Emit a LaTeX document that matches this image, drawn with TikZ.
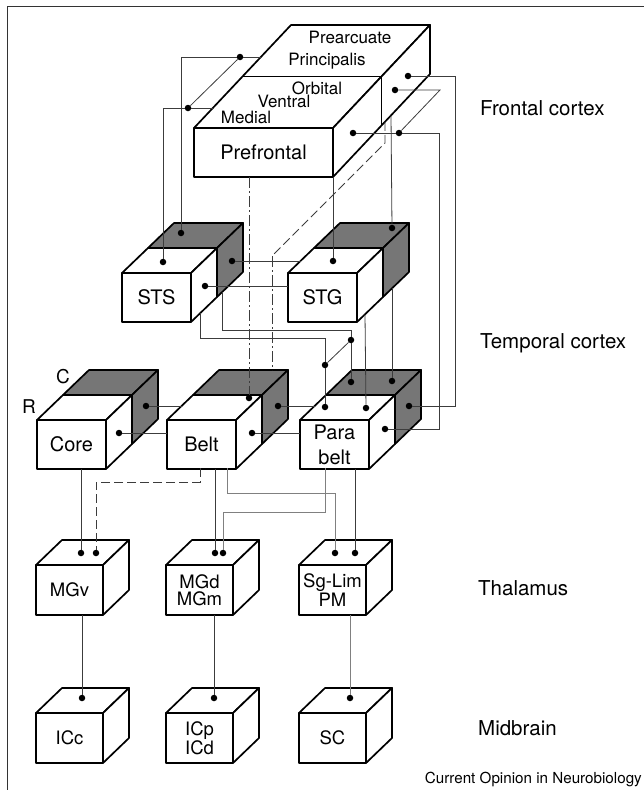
\documentclass[tikz,border=0pt]{standalone}
\usepackage{fontspec}
\setmainfont{TeX Gyre Heros}
\usetikzlibrary{calc}
\definecolor{caudal}{RGB}{118,118,118}
\definecolor{inkgray}{RGB}{60,60,60}

% cortical block: white rostral half in front, shaded caudal half behind
\newcommand{\ctxcube}[4]{%
  \node[ctxbox] (#1) at (#2,#3) {#4};
  \filldraw[boxline, fill=white] (#1.north west) -- ++(26,-25) -- ++(69,0) -- ++(-26,25) -- cycle;
  \filldraw[boxline, fill=caudal] (#1.north west) ++(26,-25) -- ++(26,-25) -- ++(69,0) -- ++(-26,25) -- cycle;
  \filldraw[boxline, fill=white] (#1.north east) -- ++(26,-25) -- ++(0,49) -- ++(-26,25) -- cycle;
  \filldraw[boxline, fill=caudal] (#1.north east) ++(26,-25) -- ++(26,-25) -- ++(0,49) -- ++(-26,25) -- cycle;
}
% subcortical block: plain white cube
\newcommand{\subcube}[4]{%
  \node[subbox] (#1) at (#2,#3) {#4};
  \filldraw[boxline, fill=white] (#1.north west) -- ++(26,-25) -- ++(67,0) -- ++(-26,25) -- cycle;
  \filldraw[boxline, fill=white] (#1.north east) -- ++(26,-25) -- ++(0,50) -- ++(-26,25) -- cycle;
}

\begin{document}
\begin{tikzpicture}[x=1pt, y=-1pt,
    boxline/.style={line width=1.7pt, line join=round},
    frontbox/.style={boxline, draw, fill=white, anchor=north west, inner sep=0pt,
                     outer sep=0pt, align=center},
    ctxbox/.style={frontbox, minimum width=69pt, minimum height=49pt,
                   font=\fontsize{20}{25}\selectfont},
    subbox/.style={frontbox, minimum width=67pt, minimum height=50pt,
                   font=\fontsize{18.5}{17}\selectfont},
    toplab/.style={font=\fontsize{17}{20}\selectfont, inner sep=0pt},
    region/.style={font=\fontsize{20.5}{24}\selectfont, anchor=west, inner sep=0pt},
    tap/.style={circle, fill=black, inner sep=0pt, minimum size=6.5pt},
    conn/.style={line width=0.8pt, draw=inkgray},
    faint/.style={conn, draw=black!50},
    weak/.style={conn, dash pattern=on 9pt off 4pt},
    weakdot/.style={conn, dash pattern=on 11pt off 3pt on 2pt off 3pt},
]
\useasboundingbox (0,0) rectangle (644,790);

% frame
\draw[line width=1pt, black!80] (7,790) -- (7,6) -- (644,6);

%---------------------------------------------------------------
% Frontal cortex: prefrontal block
%---------------------------------------------------------------
\node[frontbox, minimum width=139pt, minimum height=49pt,
      font=\fontsize{20}{24}\selectfont] (pfc) at (194,128) {Prefrontal};
\filldraw[boxline, fill=white] (pfc.north west) -- ++(97,-103) -- ++(139,0)
    -- ++(-97,103) -- cycle;
\filldraw[boxline, fill=white] (pfc.north east) -- ++(97,-103) -- ++(0,49)
    -- ++(-97,103) -- cycle;
\draw[boxline] (pfc.north west) ++(48.5,-51.5) -- ++(139,0) -- ++(0,49);

\node[toplab] (prearc) at (350,37)  {Prearcuate};
\node[toplab] (princ)  at (327,61)  {Principalis};
\node[toplab] (orbit)  at (317,88)  {Orbital};
\node[toplab] (ventr)  at (284,101) {Ventral};
\node[toplab] (medi)   at (246,117) {Medial};

%---------------------------------------------------------------
% Temporal cortex, thalamus, midbrain
%---------------------------------------------------------------
\ctxcube{sts}{122}{273}{STS}
\ctxcube{stg}{288}{273}{STG}
\ctxcube{core}{37}{420}{Core}
\ctxcube{belt}{167}{420}{Belt}
\ctxcube{pb}{300}{420}{Para\\belt}

\subcube{mgv}{36}{565}{MGv}
\subcube{mgd}{166}{565}{MGd\\MGm}
\subcube{sg}{299}{565}{Sg-Lim\\PM}
\subcube{icc}{36}{713}{ICc}
\subcube{icp}{166}{713}{ICp\\ICd}
\subcube{sc}{299}{713}{SC}

\node[font=\fontsize{19}{22}\selectfont] (clab) at (63,377) {C};
\node[font=\fontsize{19}{22}\selectfont] (rlab) at (29,407) {R};

% region names
\node[region] (frontal)  at (480,108) {Frontal cortex};
\node[region] (temporal) at (480,343) {Temporal cortex};
\node[region] (thal)     at (478,588) {Thalamus};
\node[region] (midb)     at (478,728) {Midbrain};
\node[anchor=east, inner sep=0pt, font=\fontsize{15.2}{18}\selectfont]
     (credit) at (642,779) {Current Opinion in Neurobiology};

%---------------------------------------------------------------
% Terminal dots
%---------------------------------------------------------------
\foreach \n/\x/\y in {pfE/240/57, pfF/188/108, pfD/408/76, pfA/395/90,
    pfC/353/133, pfB/399/133,
    stsTopC/181/233, stsTopR/163/262, stsSideC/232/261, stsSideR/205/286,
    stgTopC/392/228, stgTopR/333/261, pbMidC/351/340, pbMidR/325/365,
    beltTop/249/398, coreSideC/146/406, coreSideR/119/433,
    beltSideC/278/406, beltSideR/252/433,
    pbTopC/351/382, pbTopC2/392/381, pbTopR/325/407, pbTopR2/366/408,
    pbSideC/409/406, pbSideR/385/429,
    mgvL/81/553, mgvR/96/553, mgdL/215/553, mgdR/223/553,
    sgL/335/553, sgR/355/553,
    iccTop/82/698, icpTop/214/698, scTop/350/698} {
    \node[tap] (\n) at (\x,\y) {};
}

% bends and edge points
\coordinate (pfEin)  at (260.9,57);
\coordinate (pfFin)  at (212.8,108);
\coordinate (pfBotM) at (333,177);
\coordinate (pfBotL) at (249,177);
\coordinate (pfBotD) at (385,121.8);
\coordinate (pfBotS) at (391,115.4);
\coordinate (pfDrop) at (385,143);
\coordinate (stgGap) at (272,256);
\coordinate (beltBack) at (272,370);
\coordinate (stsBotR) at (200,313.3);
\coordinate (stsBotC) at (222,292.2);
\coordinate (stsKneeR) at (200,338);
\coordinate (stsKneeC) at (222,330);
\coordinate (stgBotR) at (365,314.3);
\coordinate (stgBotC) at (392,288.3);
\coordinate (stgEdge) at (300.5,261);
\coordinate (beltEdge) at (181.6,406);
\coordinate (pbEdge) at (314.6,406);

%---------------------------------------------------------------
% Frontal <-> temporal connections
%---------------------------------------------------------------
\draw[conn] (pfEin) -- (pfE) -| (stsTopC);
\draw[conn] (pfFin) -- (pfF) -| (stsTopR);
\draw[conn] (pfE) -- (pfF);
\draw[conn] (pfD) -- (455,76) |- (pbSideC);
\draw[conn] (pfA) -- (440,90) -- (pfB);
\draw[conn] (pfC) -- (pfB) -- (439,133) |- (pbSideR);
\draw[conn] (pfBotM) -- (stgTopR);
\draw[conn] (pfBotS) -- (stgTopC);
\draw[weak] (pfBotD) -- (pfDrop) -- (stgGap);
\draw[weakdot] (stgGap) -- (beltBack);
\draw[weakdot] (pfBotL) -- (beltTop);

%---------------------------------------------------------------
% Within temporal cortex
%---------------------------------------------------------------
\draw[conn] (stsSideC) -- (stgEdge);
\draw[conn] (stsSideR) -- (stsSideR -| stg.west);
\draw[conn] (stsBotR) -- (stsKneeR) -| (pbMidR) -- (pbTopR);
\draw[conn] (stsBotC) -- (stsKneeC) -| (pbMidC) -- (pbTopC);
\draw[conn] (pbMidR) -- (pbMidC);
\draw[conn] (stgBotR) -- (pbTopR2);
\draw[conn] (stgBotC) -- (pbTopC2);
\draw[conn] (coreSideC) -- (beltEdge);
\draw[conn] (beltSideC) -- (pbEdge);
\draw[conn] (coreSideR) -- (coreSideR -| belt.west);
\draw[conn] (beltSideR) -- (beltSideR -| pb.west);

%---------------------------------------------------------------
% Cortex <-> thalamus <-> midbrain
%---------------------------------------------------------------
\draw[conn] (mgvL |- core.south) -- (mgvL);
\draw[weak] (200,468) -- (200,482) -| (mgvR);
\draw[conn] (mgdL |- belt.south) -- (mgdL);
\draw[faint] (227,468) -- (227,493) -| (sgL);
\draw[faint] (325,468) -- (325,512) -| (mgdR);
\draw[conn] (sgR |- pb.south) -- (sgR);
\draw[conn] (iccTop |- mgv.south) -- (iccTop);
\draw[conn] (icpTop |- mgd.south) -- (icpTop);
\draw[faint] (scTop |- sg.south) -- (scTop);

\end{tikzpicture}
\end{document}
